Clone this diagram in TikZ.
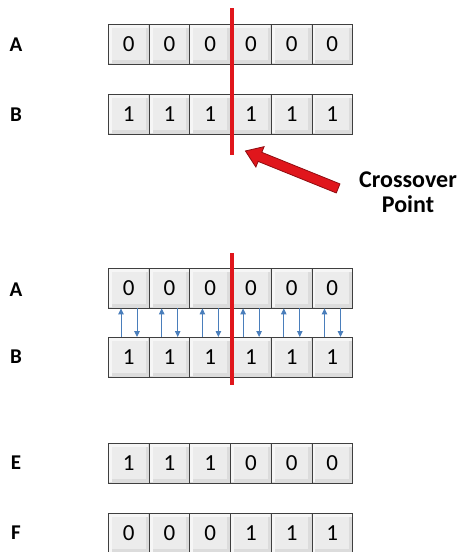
\documentclass[tikz,border=0pt]{standalone}
\usepackage{fontspec}
\setmainfont{Carlito}
\usetikzlibrary{arrows.meta,shapes.arrows}

\definecolor{cellframe}{HTML}{3F3F3F}
\definecolor{cellbevel}{HTML}{DCDCDC}
\definecolor{celllight}{HTML}{F6F6F6}
\definecolor{cellface}{HTML}{ECECEC}
\definecolor{cutred}{HTML}{E0161C}
\definecolor{cutdark}{HTML}{8E0C10}
\definecolor{swapblue}{HTML}{4A7EBB}

\tikzset{
  cell/.style={draw=cellframe, line width=0.9pt, fill=cellbevel,
    minimum width=40.7pt, minimum height=39.5pt, inner sep=0pt,
    anchor=north west, font=\fontsize{23}{23}\selectfont,
    path picture={
      \fill[celllight] (path picture bounding box.north west) rectangle
        ([shift={(-1pt,-3.5pt)}]path picture bounding box.north east);
      \fill[celllight] (path picture bounding box.north west) rectangle
        ([shift={(3.5pt,1pt)}]path picture bounding box.south west);
      \fill[cellface] ([shift={(3.5pt,-3.5pt)}]path picture bounding box.north west) rectangle
        ([shift={(-3.5pt,3.5pt)}]path picture bounding box.south east);
    }},
  rowlabel/.style={font=\bfseries\fontsize{21}{21}\selectfont},
  cutline/.style={draw=cutred, line width=3.2pt},
  swap/.style={draw=swapblue, line width=0.9pt, -{Triangle[length=6pt,width=5.5pt]}},
  fatarrow/.style={single arrow, fill=cutred, draw=cutdark, line width=0.8pt,
    minimum height=100pt, minimum width=22pt, inner sep=4.4pt,
    single arrow head extend=6pt, single arrow tip angle=70},
}

\begin{document}
\begin{tikzpicture}[x=1pt,y=-1pt]
\useasboundingbox (0,0) rectangle (458,552);

% row labels
\node[rowlabel] (lA1) at (16,45) {A};
\node[rowlabel] (lB1) at (16,115) {B};
\node[rowlabel] (lA2) at (16,290) {A};
\node[rowlabel] (lB2) at (16,357) {B};
\node[rowlabel] (lE)  at (16,463) {E};
\node[rowlabel] (lF)  at (16,533) {F};

% gene strings
\foreach \d [count=\i] in {0,0,0,0,0,0}
  \node[cell] (a1-\i) at ({108+(\i-1)*40.7},24) {\d};
\foreach \d [count=\i] in {1,1,1,1,1,1}
  \node[cell] (b1-\i) at ({108+(\i-1)*40.7},94) {\d};
\foreach \d [count=\i] in {0,0,0,0,0,0}
  \node[cell] (a2-\i) at ({108+(\i-1)*40.7},268) {\d};
\foreach \d [count=\i] in {1,1,1,1,1,1}
  \node[cell] (b2-\i) at ({108+(\i-1)*40.7},337) {\d};
\foreach \d [count=\i] in {1,1,1,0,0,0}
  \node[cell] (e-\i) at ({108+(\i-1)*40.7},443) {\d};
\foreach \d [count=\i] in {0,0,0,1,1,1}
  \node[cell] (f-\i) at ({108+(\i-1)*40.7},513) {\d};

% exchange arrows between the two parents
\foreach \i in {1,...,6}{
  \draw[swap] ([xshift=13pt]b2-\i.north west) -- ([xshift=13pt]a2-\i.south west);
  \draw[swap] ([xshift=29pt]a2-\i.south west) -- ([xshift=29pt]b2-\i.north west);
}

% crossover cut lines
\coordinate (cut1top) at (232,8);
\coordinate (cut1bot) at (232,155);
\coordinate (cut2top) at (232,253);
\coordinate (cut2bot) at (232,385);
\draw[cutline] (cut1top) -- (cut1bot);
\draw[cutline] (cut2top) -- (cut2bot);

% pointer and caption
\node[fatarrow, rotate=158] (pointer) at (295,171) {};
\node[font=\bfseries\fontsize{24}{25}\selectfont, align=center] (caption) at (408,192) {Crossover\\Point};
\end{tikzpicture}
\end{document}
